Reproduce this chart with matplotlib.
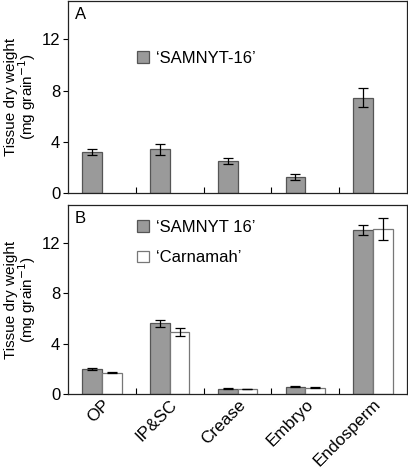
import matplotlib
matplotlib.use("Agg")
import matplotlib.pyplot as plt
import numpy as np

plt.rcParams['font.family'] = ['Liberation Sans', 'DejaVu Sans']

categories = ["OP", "IP&SC", "Crease", "Embryo", "Endosperm"]

# Panel A: 'SAMNYT-16'
a_vals = [3.2, 3.4, 2.5, 1.25, 7.45]
a_err = [0.26, 0.45, 0.22, 0.25, 0.73]

# Panel B
b_samnyt = [2.0, 5.6, 0.42, 0.57, 13.0]
b_samnyt_err = [0.08, 0.27, 0.05, 0.05, 0.42]
b_carnamah = [1.7, 4.9, 0.4, 0.5, 13.1]
b_carnamah_err = [0.07, 0.33, 0.03, 0.04, 0.88]

yticks = [0, 4, 8, 12]

W, H = 408, 471
fig = plt.figure(figsize=(W / 100, H / 100), dpi=100)

gray = '#9a9a9a'
gray_edge = '#555555'
white_edge = '#777777'
bw = 0.29
x = np.arange(len(categories))

def style(ax):
    ax.set_xlim(-0.5, 4.5)
    ax.set_ylim(0, 15)
    ax.set_yticks(yticks)
    ax.tick_params(axis='y', direction='out', length=3.5, width=0.8, labelsize=12, pad=2)
    ax.set_xticks(x)
    ax.set_xticks(np.arange(0.5, 4.5, 1.0), minor=True)
    ax.tick_params(axis='x', which='major', length=0)
    ax.tick_params(axis='x', which='minor', direction='in', length=4, width=0.8)
    for s in ax.spines.values():
        s.set_linewidth(0.9)
        s.set_color('#222222')
    ax.set_ylabel("Tissue dry weight\n(mg grain$^{-1}$)", fontsize=11, linespacing=0.9)
    ax.yaxis.set_label_coords(-0.088, 0.5)

ekw = dict(ecolor='black', elinewidth=0.9, capsize=3.3, capthick=0.9)

# Panel A
axA = fig.add_axes([68 / W, 1 - 193 / H, 339 / W, 192 / H])
axA.bar(x - bw / 2, a_vals, bw, color=gray, edgecolor=gray_edge, linewidth=0.9,
        yerr=a_err, error_kw=ekw, label="\u2018SAMNYT-16\u2019")
style(axA)
axA.set_xticklabels([])
axA.text(0.02, 0.97, "A", transform=axA.transAxes, fontsize=12, va='top', ha='left')
axA.legend(loc='upper left', bbox_to_anchor=(0.17, 0.80), frameon=False, fontsize=12,
           handlelength=0.7, handleheight=0.7, handletextpad=0.4, borderpad=0.2)

# Panel B
axB = fig.add_axes([68 / W, 1 - 394 / H, 339 / W, 189 / H])
axB.bar(x - bw / 2, b_samnyt, bw, color=gray, edgecolor=gray_edge, linewidth=0.9,
        yerr=b_samnyt_err, error_kw=ekw, label="\u2018SAMNYT 16\u2019")
axB.bar(x + bw / 2, b_carnamah, bw, color='white', edgecolor=white_edge, linewidth=0.9,
        yerr=b_carnamah_err, error_kw=ekw, label="\u2018Carnamah\u2019")
style(axB)
axB.set_xticklabels(categories, rotation=45, ha='right', rotation_mode='anchor', fontsize=12.3)
axB.tick_params(axis='x', which='major', pad=2)
axB.text(0.02, 0.97, "B", transform=axB.transAxes, fontsize=12, va='top', ha='left')
axB.legend(loc='upper left', bbox_to_anchor=(0.17, 0.985), frameon=False, fontsize=12,
           handlelength=0.7, handleheight=0.7, handletextpad=0.4, borderpad=0.2,
           labelspacing=0.95)

fig.savefig("out.png", dpi=100)
